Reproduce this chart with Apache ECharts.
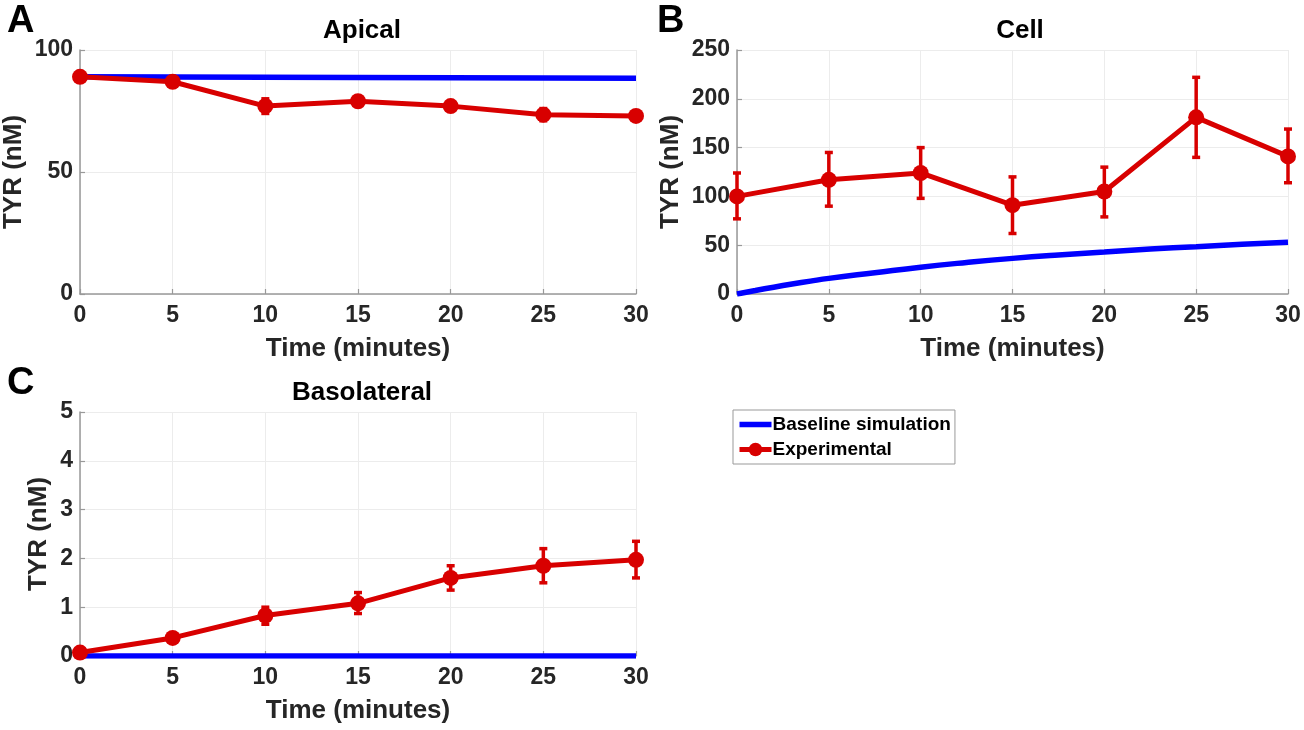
<!DOCTYPE html>
<html>
<head>
<meta charset="utf-8">
<script src="https://cdn.jsdelivr.net/npm/echarts@6/dist/echarts.min.js"></script>
<style>
html,body{margin:0;padding:0;background:#fff;}
#chart{width:1304px;height:730px;}
</style>
</head>
<body>
<div id="chart"></div>
<script>
// ---- data ----
const timeTicks = [0, 5, 10, 15, 20, 25, 30];

// Apical
const apicalSimT = [0, 30];
const apicalSimV = [89, 88.4];
const apicalExpV = [89, 87, 77, 79, 77, 73.5, 73];
const apicalExpLo = [88, 86, 74, 77.5, 75.5, 71, 71.5];
const apicalExpHi = [90, 88, 80, 80.5, 78.5, 76, 74.5];

// Cell
const cellSimT = [0, 1, 2, 3, 4, 5, 7.5, 10, 12.5, 15, 17.5, 20, 22.5, 25, 27.5, 30];
const cellSimV = [0, 3.6, 7, 10.2, 13.2, 16, 21.8, 27.5, 32.3, 36.5, 40, 43, 46, 48.5, 51, 53];
const cellExpV = [100, 117, 124, 91, 105, 181, 141];
const cellExpLo = [77, 90, 98, 62, 79, 140, 114];
const cellExpHi = [124, 145, 150, 120, 130, 222, 169];

// Basolateral
const basoSimT = [0, 30];
const basoSimV = [0, 0];
const basoExpV = [0.07, 0.37, 0.83, 1.08, 1.6, 1.85, 1.97];
const basoExpLo = [0.02, 0.32, 0.65, 0.87, 1.35, 1.5, 1.6];
const basoExpHi = [0.12, 0.42, 1.0, 1.3, 1.85, 2.2, 2.35];

const RED = '#d80000';
const BLUE = '#0000ff';
const FONT = '"Liberation Sans", Arial, Helvetica, sans-serif';
const TXT = '#262626';

function pairs(xs, ys) { return xs.map((x, i) => [x, ys[i]]); }
function errData(lo, hi) { return timeTicks.map((t, i) => [t, lo[i], hi[i]]); }

function xAxis(gi) {
  return {
    gridIndex: gi, type: 'value', min: 0, max: 30, interval: 5,
    name: 'Time (minutes)', nameLocation: 'middle', nameGap: 42,
    nameTextStyle: { fontFamily: FONT, fontWeight: 'bold', fontSize: 26, color: TXT },
    axisLine: { show: true, lineStyle: { color: '#999', width: 1.5 } },
    axisTick: { show: true, inside: true, length: 5, lineStyle: { color: '#999', width: 1.2 } },
    axisLabel: { fontFamily: FONT, fontWeight: 'bold', fontSize: 23, color: TXT, margin: 10 },
    splitLine: { show: true, lineStyle: { color: '#ececec', width: 1 } }
  };
}
function yAxis(gi, max, interval, gap) {
  return {
    gridIndex: gi, type: 'value', min: 0, max: max, interval: interval,
    name: 'TYR (nM)', nameLocation: 'middle', nameGap: gap, nameRotate: 90,
    nameTextStyle: { fontFamily: FONT, fontWeight: 'bold', fontSize: 26, color: TXT },
    axisLine: { show: true, lineStyle: { color: '#999', width: 1.5 } },
    axisTick: { show: true, inside: true, length: 5, lineStyle: { color: '#999', width: 1.2 } },
    axisLabel: { fontFamily: FONT, fontWeight: 'bold', fontSize: 23, color: TXT, margin: 7 },
    splitLine: { show: true, lineStyle: { color: '#ececec', width: 1 } }
  };
}
function simSeries(gi, data, smooth) {
  return {
    name: 'Baseline simulation', type: 'line', xAxisIndex: gi, yAxisIndex: gi,
    data: data, smooth: smooth, showSymbol: false, symbol: 'none',
    lineStyle: { color: BLUE, width: 5.5 }, itemStyle: { color: BLUE }, z: 2, animation: false
  };
}
function expSeries(gi, vals) {
  return {
    name: 'Experimental', type: 'line', xAxisIndex: gi, yAxisIndex: gi,
    data: pairs(timeTicks, vals), symbol: 'circle', symbolSize: 16,
    lineStyle: { color: RED, width: 5 }, itemStyle: { color: RED }, z: 4, animation: false
  };
}
function errSeries(gi, lo, hi) {
  return {
    name: 'err' + gi, type: 'custom', xAxisIndex: gi, yAxisIndex: gi,
    data: errData(lo, hi), z: 3, animation: false, silent: true,
    renderItem: function (params, api) {
      const x = api.value(0);
      const p1 = api.coord([x, api.value(1)]);
      const p2 = api.coord([x, api.value(2)]);
      const cw = 4;
      const st = { stroke: RED, lineWidth: 3.5 };
      return {
        type: 'group',
        children: [
          { type: 'line', shape: { x1: p1[0], y1: p1[1], x2: p2[0], y2: p2[1] }, style: st },
          { type: 'line', shape: { x1: p1[0] - cw, y1: p1[1], x2: p1[0] + cw, y2: p1[1] }, style: st },
          { type: 'line', shape: { x1: p2[0] - cw, y1: p2[1], x2: p2[0] + cw, y2: p2[1] }, style: st }
        ]
      };
    }
  };
}

const titleStyle = { fontFamily: FONT, fontWeight: 'bold', fontSize: 26, color: '#000' };
const letterStyle = { fontFamily: FONT, fontWeight: 'bold', fontSize: 38, color: '#000' };

const option = {
  backgroundColor: '#fff',
  animation: false,
  title: [
    { text: 'Apical', left: 357, top: 13, textAlign: 'center', textStyle: titleStyle },
    { text: 'Cell', left: 1015, top: 13, textAlign: 'center', textStyle: titleStyle },
    { text: 'Basolateral', left: 357, top: 375, textAlign: 'center', textStyle: titleStyle },
    { text: 'A', left: 2, top: -2, textStyle: letterStyle },
    { text: 'B', left: 652, top: -2, textStyle: letterStyle },
    { text: 'C', left: 2, top: 360, textStyle: letterStyle }
  ],
  legend: {
    data: [
      { name: 'Baseline simulation', icon: 'path://M0,0H32V5.5H0Z', itemStyle: { color: BLUE } },
      { name: 'Experimental', lineStyle: { width: 5, color: RED } }
    ],
    orient: 'vertical', left: 733, top: 410,
    borderColor: '#999', borderWidth: 1, padding: [5, 4, 5, 4], itemGap: 6,
    itemWidth: 32, itemHeight: 17,
    textStyle: { fontFamily: FONT, fontWeight: 'bold', fontSize: 19, color: '#000', padding: [0, 0, 0, -4] },
    selectedMode: false
  },
  grid: [
    { left: 80, top: 50, width: 556, height: 244 },
    { left: 737, top: 50, width: 551, height: 244 },
    { left: 80, top: 412, width: 556, height: 244 }
  ],
  xAxis: [xAxis(0), xAxis(1), xAxis(2)],
  yAxis: [yAxis(0, 100, 50, 53), yAxis(1, 250, 50, 53), yAxis(2, 5, 1, 28)],
  series: [
    simSeries(0, pairs(apicalSimT, apicalSimV), false),
    errSeries(0, apicalExpLo, apicalExpHi),
    expSeries(0, apicalExpV),
    simSeries(1, pairs(cellSimT, cellSimV), true),
    errSeries(1, cellExpLo, cellExpHi),
    expSeries(1, cellExpV),
    simSeries(2, pairs(basoSimT, basoSimV), false),
    errSeries(2, basoExpLo, basoExpHi),
    expSeries(2, basoExpV)
  ]
};

const chart = echarts.init(document.getElementById('chart'));
chart.setOption(option);
</script>
</body>
</html>
